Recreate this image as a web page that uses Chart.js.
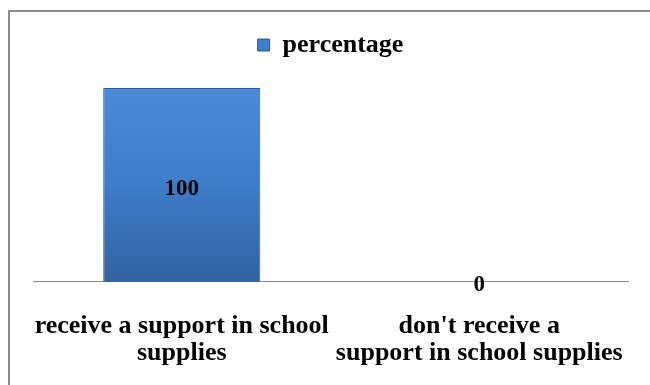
<!DOCTYPE html>
<html>
<head>
<meta charset="utf-8">
<script src="https://cdn.jsdelivr.net/npm/chart.js@4.4.1/dist/chart.umd.min.js"></script>
<style>
  html, body { margin: 0; padding: 0; background: #fff; }
  body { width: 650px; height: 385px; overflow: hidden; position: relative; }
  #frame {
    position: absolute; left: 8px; top: 10px;
    width: 642px; height: 390px;
    border-left: 2px solid #8c8c8c; border-top: 2px solid #8c8c8c;
  }
  #wrap { position: absolute; left: 0; top: 0; width: 640px; height: 386px; }
</style>
</head>
<body>
<div id="frame"><div id="wrap"><canvas id="chart"></canvas></div></div>
<script>
// dados do gráfico
const categories = [
  ['receive a support in school', 'supplies'],
  ["don't receive a", 'support in school supplies']
];
const seriesName = 'percentage';
const percentage = [100, 0];

const serif = "'Liberation Serif', 'Times New Roman', serif";

// gradiente da barra (efeito 3D do original)
function barGradient(context) {
  const chart = context.chart;
  const area = chart.chartArea;
  if (!area) return '#3d7cc9';
  const g = chart.ctx.createLinearGradient(0, area.top, 0, area.bottom);
  g.addColorStop(0, '#4a8ad6');
  g.addColorStop(0.5, '#3e7cc8');
  g.addColorStop(1, '#33639f');
  return g;
}

// espaço extra abaixo da legenda
const legendGap = {
  id: 'legendGap',
  beforeInit(chart) {
    const fit = chart.legend.fit;
    chart.legend.fit = function () {
      fit.bind(chart.legend)();
      this.height += 20;
    };
  }
};

// rótulos de valor
const valueLabels = {
  id: 'valueLabels',
  afterDatasetsDraw(chart) {
    const ctx = chart.ctx;
    const meta = chart.getDatasetMeta(0);
    ctx.save();
    ctx.font = 'bold 23px ' + serif;
    ctx.fillStyle = '#000';
    ctx.textAlign = 'center';
    ctx.textBaseline = 'middle';
    meta.data.forEach((bar, i) => {
      const v = percentage[i];
      if (v > 0) {
        ctx.fillText(String(v), bar.x, (bar.y + bar.base) / 2 + 4);
      } else {
        ctx.fillText(String(v), bar.x, bar.base + 3);
      }
    });
    ctx.restore();
  }
};

const ctx = document.getElementById('chart').getContext('2d');
const chart = new Chart(ctx, {
  type: 'bar',
  data: {
    labels: categories,
    datasets: [{
      label: seriesName,
      data: percentage,
      backgroundColor: barGradient,
      borderColor: '#2e5b94',
      borderWidth: 1,
      categoryPercentage: 1,
      barPercentage: 0.528
    }]
  },
  options: {
    responsive: true,
    maintainAspectRatio: false,
    animation: false,
    layout: { padding: { left: 23, right: 22, top: 6, bottom: 0 } },
    plugins: {
      legend: {
        display: true,
        position: 'top',
        labels: {
          font: { family: serif, size: 26, weight: 'bold' },
          color: '#000',
          boxWidth: 12,
          boxHeight: 12,
          padding: 14,
          generateLabels(chart) {
            return [{
              text: seriesName,
              fillStyle: '#3f7ecb',
              strokeStyle: '#2e5b94',
              lineWidth: 1,
              datasetIndex: 0
            }];
          }
        }
      },
      tooltip: { enabled: false }
    },
    scales: {
      x: {
        grid: { display: false, drawTicks: false },
        border: { display: true, color: '#8c8c8c', width: 1 },
        ticks: {
          color: '#000',
          font: { family: serif, size: 26, weight: 'bold', lineHeight: 1.04 },
          padding: 31,
          maxRotation: 0,
          autoSkip: false
        },
        // os rótulos largos não devem encolher a área do gráfico
        afterFit(scale) {
          scale.paddingLeft = 0;
          scale.paddingRight = 0;
        }
      },
      y: {
        display: false,
        min: 0,
        max: 100
      }
    }
  },
  plugins: [legendGap, valueLabels]
});
</script>
</body>
</html>
